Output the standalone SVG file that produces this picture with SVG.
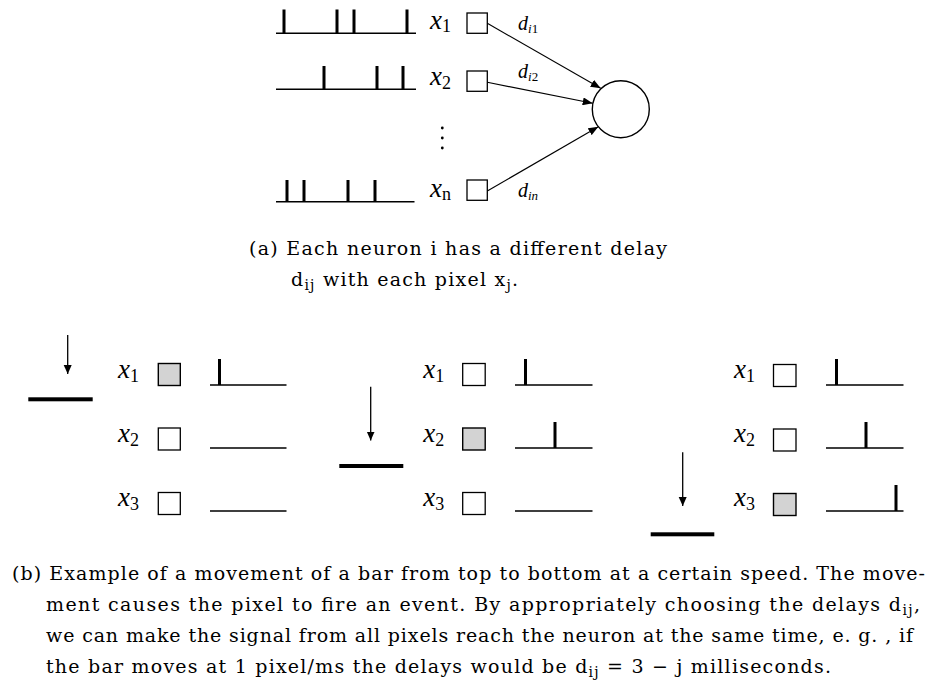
<svg xmlns="http://www.w3.org/2000/svg" width="929" height="684" viewBox="0 0 929 684">
  <style>
    .bg { fill: #ffffff; }
    .base { stroke: #000; stroke-width: 1.6; fill: none; }
    .spike { stroke: #000; stroke-width: 3; fill: none; }
    .box { fill: #ffffff; stroke: #000; stroke-width: 1.3; }
    .hit { fill: #d3d3d3; stroke: #000; stroke-width: 1.4; }
    .edge { stroke: #000; stroke-width: 1.1; fill: none; }
    .fall { stroke: #000; stroke-width: 1.3; fill: none; }
    .bar { fill: #000; }
    .math { font-family: "Liberation Serif", "Times New Roman", serif; font-style: italic; font-size: 27px; fill: #000; }
    .sub { font-style: normal; font-size: 18px; }
    .dl { font-family: "Liberation Serif", "Times New Roman", serif; font-style: italic; font-size: 20px; fill: #000; }
    .dsub { font-size: 13px; }
    .up { font-style: normal; }
    .cap { font-family: "DejaVu Serif", "Liberation Serif", serif; font-size: 19px; fill: #000; }
    .csub { font-size: 14px; }
  </style>
  <defs>
    <marker id="head" markerUnits="userSpaceOnUse" markerWidth="11" markerHeight="8" refX="10" refY="4" orient="auto">
      <path d="M0,0 L10,4 L0,8 z" fill="#000"/>
    </marker>
    <marker id="drop" markerUnits="userSpaceOnUse" markerWidth="10" markerHeight="10" refX="9" refY="4" orient="auto">
      <path d="M0,0 L9,4 L0,8 z" fill="#000"/>
    </marker>
  </defs>

  <rect class="bg" x="0" y="0" width="929" height="684"/>

  <!-- (a) spike trains, pixels and the neuron -->
  <g id="train-1">
    <line class="base" x1="276" y1="33.3" x2="416" y2="33.3"/>
    <path class="spike" d="M284,9.5V33.3 M337,9.5V33.3 M354,9.5V33.3 M407,9.5V33.3"/>
  </g>
  <g id="train-2">
    <line class="base" x1="276" y1="89.3" x2="416" y2="89.3"/>
    <path class="spike" d="M324,66V89.3 M377,66V89.3 M403,66V89.3"/>
  </g>
  <g id="train-n">
    <line class="base" x1="276" y1="201.7" x2="414.5" y2="201.7"/>
    <path class="spike" d="M287,180V201.7 M304,180V201.7 M348,180V201.7 M375,180V201.7"/>
  </g>

  <g id="pixel-1">
    <text class="math" x="430" y="28.5">x<tspan class="sub" dy="3.5">1</tspan></text>
    <rect class="box" x="467" y="13" width="20.3" height="20.3"/>
  </g>
  <g id="pixel-2">
    <text class="math" x="430" y="85">x<tspan class="sub" dy="3.5">2</tspan></text>
    <rect class="box" x="467" y="71" width="20.3" height="20.3"/>
  </g>
  <g id="ellipsis">
    <circle cx="442.3" cy="128" r="1.4" fill="#000"/>
    <circle cx="442.3" cy="138" r="1.4" fill="#000"/>
    <circle cx="442.3" cy="148" r="1.4" fill="#000"/>
  </g>
  <g id="pixel-n">
    <text class="math" x="430" y="196.5">x<tspan class="sub" dy="3.5" font-style="italic">n</tspan></text>
    <rect class="box" x="467" y="180" width="20.3" height="20.3"/>
  </g>

  <g id="neuron">
    <circle cx="620.8" cy="109.2" r="28.5" fill="#fff" stroke="#000" stroke-width="1.4"/>
  </g>

  <g id="connectors">
    <line class="edge" x1="487.3" y1="23.3" x2="600.7" y2="88.3" marker-end="url(#head)"/>
    <line class="edge" x1="487.3" y1="82.3" x2="592.7" y2="103.3" marker-end="url(#head)"/>
    <line class="edge" x1="487.3" y1="191" x2="598.3" y2="126.7" marker-end="url(#head)"/>
    <text class="dl" x="518" y="30">d<tspan class="dsub" dy="3">i<tspan class="up">1</tspan></tspan></text>
    <text class="dl" x="518" y="78">d<tspan class="dsub" dy="3">i<tspan class="up">2</tspan></tspan></text>
    <text class="dl" x="518" y="196.5">d<tspan class="dsub" dy="3">in</tspan></text>
  </g>

  <!-- caption (a) -->
  <g id="caption-a">
    <text class="cap" x="249" y="255" textLength="418" lengthAdjust="spacing">(a) Each neuron i has a different delay</text>
    <text class="cap" x="291" y="286" textLength="227" lengthAdjust="spacing">d<tspan class="csub" dy="4">ij</tspan><tspan dy="-4"> with each pixel x</tspan><tspan class="csub" dy="4">j</tspan><tspan dy="-4">.</tspan></text>
  </g>

  <!-- (b) bar moving from top to bottom, three snapshots -->
  <g id="bar-1">
    <line class="fall" x1="67.7" y1="335" x2="67.7" y2="374" marker-end="url(#drop)"/>
    <rect class="bar" x="28.3" y="397.3" width="64.4" height="4"/>
  </g>
  <g id="step-1">
    <text class="math" x="118" y="378">x<tspan class="sub" dy="3.7">1</tspan></text>
    <text class="math" x="118" y="442">x<tspan class="sub" dy="3.7">2</tspan></text>
    <text class="math" x="118" y="506">x<tspan class="sub" dy="3.7">3</tspan></text>
    <rect class="hit" x="158.3" y="363.5" width="22" height="22"/>
    <rect class="box" x="158.3" y="428" width="22" height="22"/>
    <rect class="box" x="158.3" y="492.5" width="22" height="22"/>
    <path class="base" d="M210,385H286.5 M210,448H286.5 M210,511H286.5"/>
    <path class="spike" d="M219.5,359V385"/>
  </g>

  <g id="bar-2">
    <line class="fall" x1="370.7" y1="386.7" x2="370.7" y2="440.5" marker-end="url(#drop)"/>
    <rect class="bar" x="339.3" y="464" width="64" height="4"/>
  </g>
  <g id="step-2">
    <text class="math" x="423.3" y="378">x<tspan class="sub" dy="3.7">1</tspan></text>
    <text class="math" x="423.3" y="442">x<tspan class="sub" dy="3.7">2</tspan></text>
    <text class="math" x="423.3" y="506">x<tspan class="sub" dy="3.7">3</tspan></text>
    <rect class="box" x="462.7" y="363.5" width="22.5" height="22"/>
    <rect class="hit" x="462.7" y="428" width="22.5" height="22"/>
    <rect class="box" x="462.7" y="492.5" width="22.5" height="22"/>
    <path class="base" d="M515,385H592.5 M515,448H592.5 M515,511H592.5"/>
    <path class="spike" d="M525.5,359V385 M555,422V448"/>
  </g>

  <g id="bar-3">
    <line class="fall" x1="682.7" y1="452.3" x2="682.7" y2="506" marker-end="url(#drop)"/>
    <rect class="bar" x="650.7" y="532.3" width="63.6" height="4"/>
  </g>
  <g id="step-3">
    <text class="math" x="734" y="378">x<tspan class="sub" dy="3.7">1</tspan></text>
    <text class="math" x="734" y="442">x<tspan class="sub" dy="3.7">2</tspan></text>
    <text class="math" x="734" y="506">x<tspan class="sub" dy="3.7">3</tspan></text>
    <rect class="box" x="773.5" y="364.5" width="22.5" height="22"/>
    <rect class="box" x="773.5" y="429" width="22.5" height="22"/>
    <rect class="hit" x="773.5" y="493.5" width="22.5" height="22"/>
    <path class="base" d="M826,385H903.5 M826,448H903.5 M826,511H903.5"/>
    <path class="spike" d="M836.5,359V385 M866,422V448 M896,485V511"/>
  </g>

  <!-- caption (b) -->
  <g id="caption-b">
    <text class="cap" x="12" y="580" textLength="913" lengthAdjust="spacing">(b) Example of a movement of a bar from top to bottom at a certain speed. The move-</text>
    <text class="cap" x="46" y="611" textLength="874" lengthAdjust="spacing">ment causes the pixel to fire an event. By appropriately choosing the delays d<tspan class="csub" dy="4">ij</tspan><tspan dy="-4">,</tspan></text>
    <text class="cap" x="46" y="642" textLength="867" lengthAdjust="spacing">we can make the signal from all pixels reach the neuron at the same time, e. g. , if</text>
    <text class="cap" x="46" y="673" textLength="785" lengthAdjust="spacing">the bar moves at 1 pixel/ms the delays would be d<tspan class="csub" dy="4">ij</tspan><tspan dy="-4"> = 3 − j milliseconds.</tspan></text>
  </g>
</svg>
